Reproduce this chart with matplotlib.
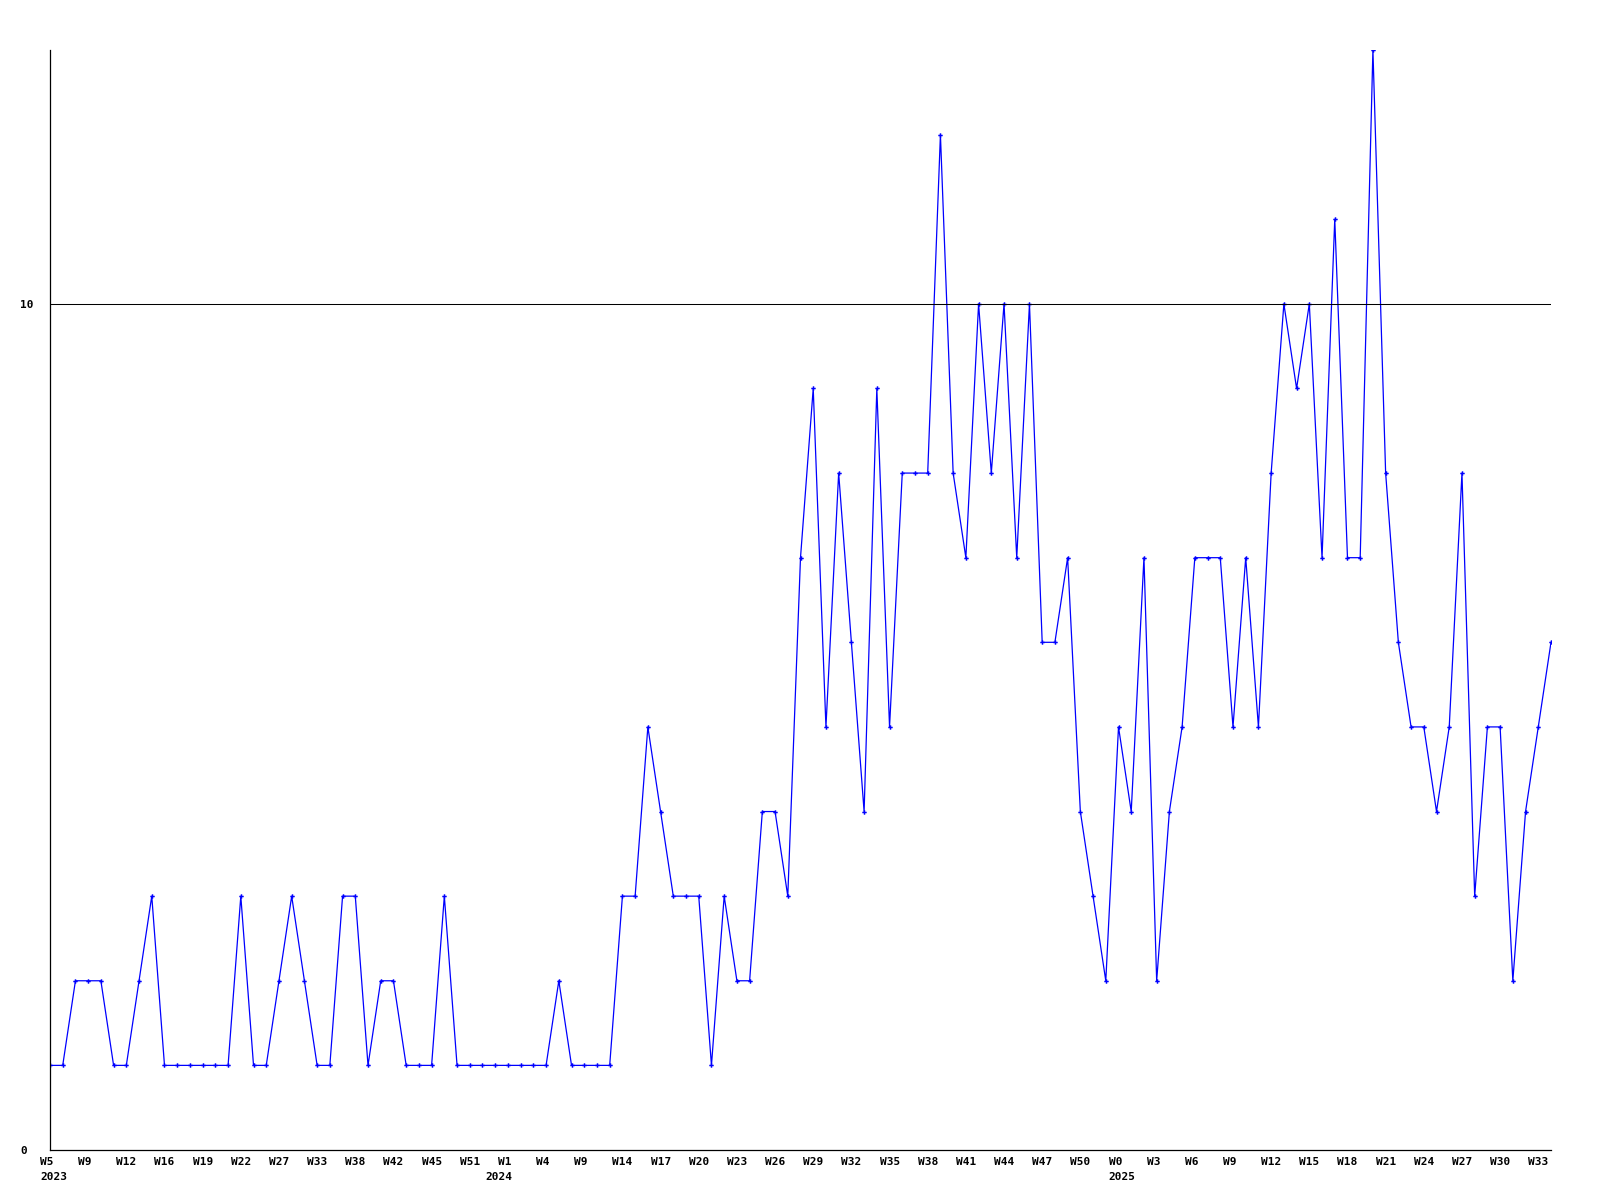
import matplotlib
matplotlib.use("Agg")
import matplotlib.pyplot as plt
import matplotlib.transforms as mtransforms

plt.rcParams['font.family'] = 'DejaVu Sans Mono'
plt.rcParams['font.weight'] = 'bold'

# weekly counts, one point per week that has data
counts = [
    1, 1, 2, 2, 2, 1, 1, 2, 3, 1,
    1, 1, 1, 1, 1, 3, 1, 1, 2, 3,
    2, 1, 1, 3, 3, 1, 2, 2, 1, 1,
    1, 3, 1, 1, 1, 1, 1, 1, 1, 1,
    2, 1, 1, 1, 1, 3, 3, 5, 4, 3,
    3, 3, 1, 3, 2, 2, 4, 4, 3, 7,
    9, 5, 8, 6, 4, 9, 5, 8, 8, 8,
    12, 8, 7, 10, 8, 10, 7, 10, 6, 6,
    7, 4, 3, 2, 5, 4, 7, 2, 4, 5,
    7, 7, 7, 5, 7, 5, 8, 10, 9, 10,
    7, 11, 7, 7, 13, 8, 6, 5, 5, 4,
    5, 8, 3, 5, 5, 2, 4, 5, 6,
]

# label on every third point
week_labels = [
    "W5", "W9", "W12", "W16", "W19", "W22", "W27", "W33", "W38", "W42",
    "W45", "W51", "W1", "W4", "W9", "W14", "W17", "W20", "W23", "W26",
    "W29", "W32", "W35", "W38", "W41", "W44", "W47", "W50", "W0", "W3",
    "W6", "W9", "W12", "W15", "W18", "W21", "W24", "W27", "W30", "W33",
]
years = ["2023", "2024", "2025"]
year_pos = [0, 35, 84]

x = list(range(len(counts)))

fig = plt.figure(figsize=(16, 12), dpi=100)
ax = fig.add_axes([50 / 1600, 50 / 1200, 1501 / 1600, 1100 / 1200])

ax.plot(x, counts, color="#0000ff", lw=0.9, marker="P", ms=3.2, mew=0)
ax.axhline(10, color="black", lw=0.75)

ax.set_xlim(0, len(counts) - 1)
ax.set_ylim(0, 13)

for s in ["top", "right"]:
    ax.spines[s].set_visible(False)
for s in ["left", "bottom"]:
    ax.spines[s].set_linewidth(0.9)

ax.set_xticks(x[::3])
ax.set_xticklabels(week_labels, fontsize=8, fontweight="bold")
ax.tick_params(axis="x", length=0, pad=5)
shift = mtransforms.ScaledTranslation(-10 / 100, 0, fig.dpi_scale_trans)
for lab in ax.get_xticklabels():
    lab.set_ha("left")
    lab.set_transform(lab.get_transform() + shift)

ax.set_yticks([0, 10])
ax.set_yticklabels(["0", "10"], fontsize=8, fontweight="bold")
ax.tick_params(axis="y", length=0, pad=21.6)
for lab in ax.get_yticklabels():
    lab.set_ha("left")

trans = mtransforms.blended_transform_factory(ax.transData, ax.transAxes)
for yr, p in zip(years, year_pos):
    ax.text(p, 0, yr, transform=trans + mtransforms.ScaledTranslation(-10 / 100, -27 / 100, fig.dpi_scale_trans),
            ha="left", va="center", fontsize=8, fontweight="bold")

fig.savefig("out.png", dpi=100)
